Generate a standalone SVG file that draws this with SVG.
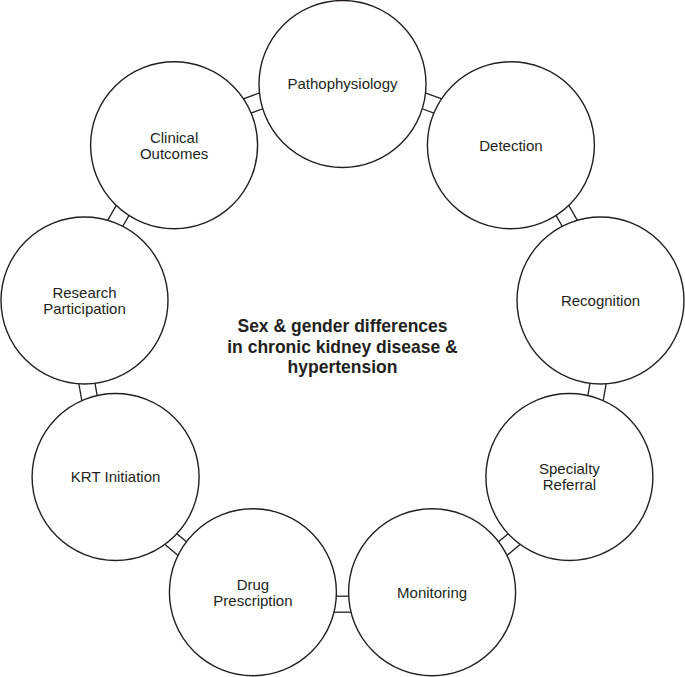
<svg xmlns="http://www.w3.org/2000/svg" width="685" height="677" viewBox="0 0 685 677">
<style>
.c{fill:#fff;stroke:#231f20;stroke-width:1.4}
.k{stroke:#231f20;stroke-width:1.3;fill:none}
.t{font-family:"Liberation Sans",Arial,sans-serif;font-size:15px;fill:#231f20;text-anchor:middle}
.h{font-family:"Liberation Sans",Arial,sans-serif;font-size:17.5px;font-weight:bold;fill:#231f20;text-anchor:middle}
</style>
<defs>
<g id="br" stroke="#231f20" stroke-width="1.3"><line x1="250.2" y1="-7" x2="250.2" y2="7"/><line x1="266.2" y1="-9.5" x2="266.2" y2="9.5"/></g>
</defs>
<rect width="685" height="677" fill="#fff"/>
<g id="connectors" class="k">
<use href="#br" transform="translate(342.5 346) rotate(-70)"/>
<use href="#br" transform="translate(342.5 346) rotate(-30)"/>
<use href="#br" transform="translate(342.5 346) rotate(10)"/>
<use href="#br" transform="translate(342.5 346) rotate(50)"/>
<use href="#br" transform="translate(342.5 346) rotate(90)"/>
<use href="#br" transform="translate(342.5 346) rotate(130)"/>
<use href="#br" transform="translate(342.5 346) rotate(170)"/>
<use href="#br" transform="translate(342.5 346) rotate(210)"/>
<use href="#br" transform="translate(342.5 346) rotate(250)"/>
</g>
<g id="pathophysiology"><circle class="c" cx="342.5" cy="84" r="83.5"/><text class="t" x="342.5" y="89.3">Pathophysiology</text></g>
<g id="detection"><circle class="c" cx="510.9" cy="145.3" r="83.5"/><text class="t" x="510.9" y="150.6">Detection</text></g>
<g id="recognition"><circle class="c" cx="600.5" cy="300.5" r="83.5"/><text class="t" x="600.5" y="305.8">Recognition</text></g>
<g id="specialty-referral"><circle class="c" cx="569.4" cy="477" r="83.5"/><text class="t" x="569.4" y="474.3">Specialty</text><text class="t" x="569.4" y="490.3">Referral</text></g>
<g id="monitoring"><circle class="c" cx="432.1" cy="592.2" r="83.5"/><text class="t" x="432.1" y="597.5">Monitoring</text></g>
<g id="drug-prescription"><circle class="c" cx="252.9" cy="592.2" r="83.5"/><text class="t" x="252.9" y="589.5">Drug</text><text class="t" x="252.9" y="605.5">Prescription</text></g>
<g id="krt-initiation"><circle class="c" cx="115.6" cy="477" r="83.5"/><text class="t" x="115.6" y="482.3">KRT Initiation</text></g>
<g id="research-participation"><circle class="c" cx="84.5" cy="300.5" r="83.5"/><text class="t" x="84.5" y="298">Research</text><text class="t" x="84.5" y="313.6">Participation</text></g>
<g id="clinical-outcomes"><circle class="c" cx="174.1" cy="145.3" r="83.5"/><text class="t" x="174.1" y="142.6">Clinical</text><text class="t" x="174.1" y="158.6">Outcomes</text></g>
<g id="title"><text class="h" x="342.5" y="332.3">Sex &amp; gender differences</text><text class="h" x="342.5" y="352.6">in chronic kidney disease &amp;</text><text class="h" x="342.5" y="372.9">hypertension</text></g>
</svg>
